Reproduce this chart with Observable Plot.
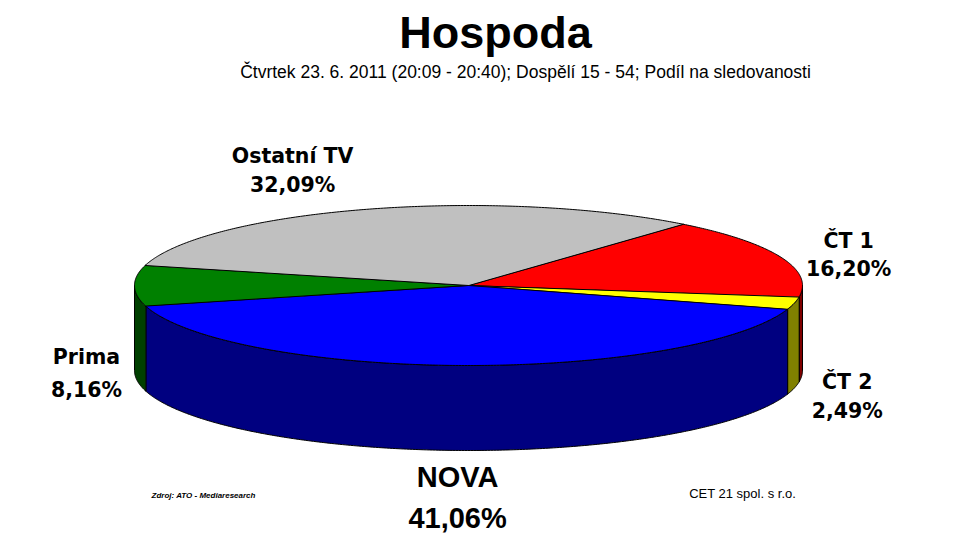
<!DOCTYPE html>
<html>
<head>
<meta charset="utf-8">
<script src="https://cdn.jsdelivr.net/npm/d3@7"></script>
<script src="https://cdn.jsdelivr.net/npm/@observablehq/plot@0.6"></script>
<style>
  html, body { margin: 0; padding: 0; background: #ffffff; }
  #chart svg { display: block; background: #ffffff; }
</style>
</head>
<body>
<div id="chart"></div>
<script>
// ---- data ----
const channels = ["ČT 1", "ČT 2", "NOVA", "Prima", "Ostatní TV"];
const shares = [16.20, 2.49, 41.06, 8.16, 32.09];
const shareLabels = ["16,20%", "2,49%", "41,06%", "8,16%", "32,09%"];
const topColors = ["#ff0000", "#ffff00", "#0000ff", "#008000", "#c0c0c0"];
const sideColors = ["#800000", "#808000", "#000080", "#004000", "#808080"];
const titleText = "Hospoda";
const subtitleText = "Čtvrtek 23. 6. 2011 (20:09 - 20:40); Dospělí 15 - 54; Podíl na sledovanosti";
const sourceText = "Zdroj: ATO - Mediaresearch";
const ownerText = "CET 21 spol. s r.o.";

// ---- layout (pixels) ----
const W = 959, H = 541;
const cx = 468, cy = 285, rx = 334, ry = 80, depth = 85;
const startDeg = 40;
const labelOffset = {            // [dx, dy of name baseline, dy of value baseline] from slice mid-point on rim
  "ČT 1":       [68, -9, 19],
  "ČT 2":       [53, 86, 115],
  "NOVA":       [-4, 122, 163],
  "Prima":      [-48, 78, 111],
  "Ostatní TV": [-74, -46, -17]
};

const tilt = ry / rx, depthU = depth / rx;
const rows = channels.map((c, i) => ({channel: c, share: shares[i], label: shareLabels[i], top: topColors[i], side: sideColors[i]}));
const start = startDeg * Math.PI / 180;
const arcs = d3.pie().sort(null).value(d => d.share).startAngle(start).endAngle(start + 2 * Math.PI)(rows);

const rim = (a, z = 0) => ({x: Math.sin(a), y: -Math.cos(a) * tilt + z * depthU});
const step = Math.PI / 360;
function sweep(a0, a1, z) {
  const n = Math.max(2, Math.ceil(Math.abs(a1 - a0) / step));
  return d3.range(n + 1).map(k => rim(a0 + (a1 - a0) * k / n, z));
}

// top faces
const topPolys = [];
arcs.forEach((a, i) => {
  const pts = [{x: 0, y: 0}, ...sweep(a.startAngle, a.endAngle, 0)];
  pts.forEach(p => topPolys.push({id: "t" + i, color: a.data.top, ...p}));
});

// front side faces (visible between 90° and 270°)
const sidePolys = [];
arcs.forEach((a, i) => {
  const a0 = Math.max(a.startAngle, Math.PI / 2);
  const a1 = Math.min(a.endAngle, 3 * Math.PI / 2);
  if (a1 > a0) {
    const pts = [...sweep(a0, a1, 0), ...sweep(a1, a0, 1)];
    pts.forEach(p => sidePolys.push({id: "s" + i, color: a.data.side, ...p}));
  }
});

// labels
const labels = arcs.map(a => {
  const mid = (a.startAngle + a.endAngle) / 2;
  const p = rim(mid, 0);
  const o = labelOffset[a.data.channel];
  return {
    name: a.data.channel, value: a.data.label,
    x: p.x + o[0] / rx, yName: p.y + o[1] / rx, yValue: p.y + o[2] / rx,
    big: a.data.channel === "NOVA"
  };
});
const smallLabels = labels.filter(d => !d.big);
const bigLabels = labels.filter(d => d.big);

const labelFont = {fontFamily: "DejaVu Sans", fontWeight: "bold", fontSize: 20.5, fill: "#000", textAnchor: "middle", lineAnchor: "bottom"};
const bigFont = {fontFamily: "Liberation Sans", fontWeight: "bold", fontSize: 29, fill: "#000", textAnchor: "middle", lineAnchor: "bottom"};

const chart = Plot.plot({
  width: W,
  height: H,
  margin: 0,
  style: {background: "#ffffff", overflow: "visible"},
  x: {domain: [-1, 1], range: [cx - rx, cx + rx], axis: null},
  y: {domain: [-1, 1], range: [cy - rx, cy + rx], axis: null},
  marks: [
    Plot.line(sidePolys, {x: "x", y: "y", z: "id", fill: "color", stroke: "#000", strokeWidth: 1, strokeLinejoin: "round", curve: "linear-closed"}),
    Plot.line(topPolys, {x: "x", y: "y", z: "id", fill: "color", stroke: "#000", strokeWidth: 1, strokeLinejoin: "round", curve: "linear-closed"}),
    Plot.text(smallLabels, {x: "x", y: "yName", text: "name", ...labelFont}),
    Plot.text(smallLabels, {x: "x", y: "yValue", text: "value", ...labelFont}),
    Plot.text(bigLabels, {x: "x", y: "yName", text: "name", ...bigFont}),
    Plot.text(bigLabels, {x: "x", y: "yValue", text: "value", ...bigFont}),
    Plot.text([titleText], {frameAnchor: "top-left", dx: 495, dy: 47, text: d => d, textAnchor: "middle", lineAnchor: "bottom", fontFamily: "Liberation Sans", fontWeight: "bold", fontSize: 45, fill: "#000"}),
    Plot.text([subtitleText], {frameAnchor: "top-left", dx: 525, dy: 77, text: d => d, textAnchor: "middle", lineAnchor: "bottom", fontFamily: "Liberation Sans", fontSize: 17.5, fill: "#000"}),
    Plot.text([sourceText], {frameAnchor: "top-left", dx: 203, dy: 497, text: d => d, textAnchor: "middle", lineAnchor: "bottom", fontFamily: "Liberation Sans", fontWeight: "bold", fontStyle: "italic", fontSize: 8, fill: "#000"}),
    Plot.text([ownerText], {frameAnchor: "top-left", dx: 742, dy: 497, text: d => d, textAnchor: "middle", lineAnchor: "bottom", fontFamily: "Liberation Sans", fontSize: 13, fill: "#000"})
  ]
});
document.getElementById("chart").appendChild(chart);
</script>
</body>
</html>
